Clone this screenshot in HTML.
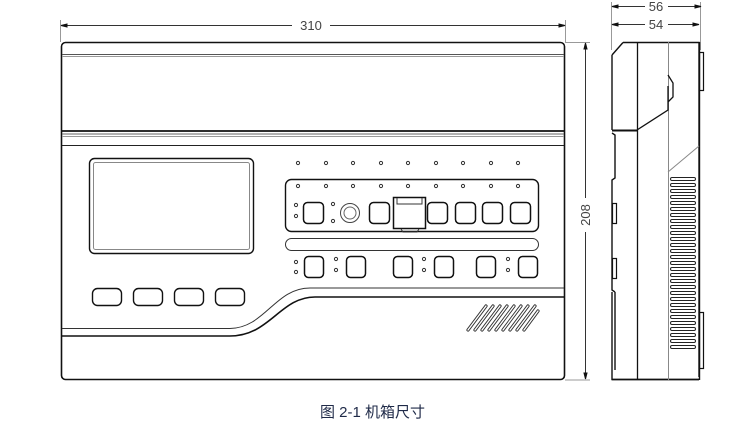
<!DOCTYPE html>
<html><head><meta charset="utf-8"><style>
html,body{margin:0;padding:0;background:#fff;width:752px;height:430px;overflow:hidden}
svg{display:block}
.cap{position:absolute;left:320px;top:401px;font:15px "Liberation Sans","Noto Sans CJK SC",sans-serif;color:#1f2a48}
</style></head><body>
<svg width="752" height="430" viewBox="0 0 752 430" xmlns="http://www.w3.org/2000/svg" font-family="Liberation Sans, sans-serif">
<g fill="none" stroke="#111" stroke-width="1">
<!-- top dimension 310 -->
<line x1="60.5" y1="20" x2="60.5" y2="42" stroke="#999"/>
<line x1="565.5" y1="20" x2="565.5" y2="42" stroke="#999"/>
<line x1="61" y1="25.5" x2="292" y2="25.5" stroke="#333"/>
<line x1="330" y1="25.5" x2="565" y2="25.5" stroke="#333"/>
<path d="M61 25.5 l6 -1.5 v3z M565 25.5 l-6 -1.5 v3z" fill="#111"/>
<!-- main box -->
<rect x="61.5" y="42.5" width="503" height="337" rx="4" stroke-width="1.6"/>
<line x1="62" y1="54.5" x2="564" y2="54.5" stroke="#555"/>
<line x1="62" y1="56.5" x2="564" y2="56.5" stroke="#999"/>
<line x1="62" y1="131" x2="564" y2="131" stroke-width="1.8"/>
<line x1="62" y1="134" x2="564" y2="134" stroke="#666"/>
<line x1="62" y1="136.5" x2="564" y2="136.5" stroke="#999"/>
<line x1="62" y1="145.5" x2="564" y2="145.5" stroke="#222"/>
<!-- screen -->
<rect x="89.5" y="158.5" width="164" height="95" rx="5" stroke-width="1.4"/>
<rect x="93.5" y="162.5" width="156" height="87" rx="2" stroke="#888"/>
<!-- bottom-left buttons -->
<rect x="92.5" y="288.5" width="29" height="17" rx="5" stroke-width="1.4"/>
<rect x="133.5" y="288.5" width="29" height="17" rx="5" stroke-width="1.4"/>
<rect x="174.5" y="288.5" width="29" height="17" rx="5" stroke-width="1.4"/>
<rect x="215.5" y="288.5" width="29" height="17" rx="5" stroke-width="1.4"/>
<!-- curved band -->
<path d="M62 328.5 H230 C265 328 275 288 310 288 H564" stroke="#333"/>
<path d="M62 336 H230 C270 336 280 297 315 297 H564" stroke-width="1.6"/>
<!-- dots top row -->
<g stroke="#333" stroke-width="1">
<circle cx="298" cy="163" r="1.6"/><circle cx="326" cy="163" r="1.6"/><circle cx="353" cy="163" r="1.6"/><circle cx="381" cy="163" r="1.6"/><circle cx="408" cy="163" r="1.6"/><circle cx="436" cy="163" r="1.6"/><circle cx="463" cy="163" r="1.6"/><circle cx="491" cy="163" r="1.6"/><circle cx="518" cy="163" r="1.6"/>
<circle cx="298" cy="186" r="1.6"/><circle cx="326" cy="186" r="1.6"/><circle cx="353" cy="186" r="1.6"/><circle cx="381" cy="186" r="1.6"/><circle cx="408" cy="186" r="1.6"/><circle cx="436" cy="186" r="1.6"/><circle cx="463" cy="186" r="1.6"/><circle cx="491" cy="186" r="1.6"/><circle cx="518" cy="186" r="1.6"/>
<circle cx="296" cy="205" r="1.6"/><circle cx="296" cy="216" r="1.6"/><circle cx="333" cy="204" r="1.6"/><circle cx="333" cy="221" r="1.6"/>
<circle cx="296" cy="262" r="1.6"/><circle cx="296" cy="272" r="1.6"/>
<circle cx="336" cy="259" r="1.6"/><circle cx="336" cy="270" r="1.6"/>
<circle cx="424" cy="259" r="1.6"/><circle cx="424" cy="270" r="1.6"/>
<circle cx="508" cy="259" r="1.6"/><circle cx="508" cy="270" r="1.6"/>
</g>
<!-- panel -->
<rect x="285.5" y="179.5" width="253" height="52" rx="6" stroke-width="1.4"/>
<rect x="303.5" y="202.5" width="20" height="21" rx="4" stroke-width="1.5"/>
<circle cx="350" cy="213" r="9.5" stroke="#444"/>
<circle cx="350" cy="213" r="6" stroke="#666"/>
<rect x="369.5" y="202.5" width="20" height="21" rx="4" stroke-width="1.5"/>
<rect x="393.5" y="197.5" width="32" height="31" stroke-width="1.5"/>
<path d="M397 198 v6 h25 v-6 M401 229 l2 3 h14 l2 -3" stroke="#333"/>
<rect x="427.5" y="202.5" width="20" height="21" rx="4" stroke-width="1.5"/>
<rect x="455.5" y="202.5" width="20" height="21" rx="4" stroke-width="1.5"/>
<rect x="482.5" y="202.5" width="20" height="21" rx="4" stroke-width="1.5"/>
<rect x="510.5" y="202.5" width="20" height="21" rx="4" stroke-width="1.5"/>
<rect x="285.5" y="238.5" width="253" height="12" rx="6" stroke="#333"/>
<!-- lower buttons -->
<rect x="304.5" y="256.5" width="19" height="21" rx="4" stroke-width="1.5"/>
<rect x="346.5" y="256.5" width="19" height="21" rx="4" stroke-width="1.5"/>
<rect x="393.5" y="256.5" width="19" height="21" rx="4" stroke-width="1.5"/>
<rect x="434.5" y="256.5" width="19" height="21" rx="4" stroke-width="1.5"/>
<rect x="476.5" y="256.5" width="19" height="21" rx="4" stroke-width="1.5"/>
<rect x="518.5" y="256.5" width="19" height="21" rx="4" stroke-width="1.5"/>
<!-- hatch vent -->
<g stroke="#333" stroke-width="3.2" stroke-linecap="round">
<line x1="468" y1="330" x2="486" y2="306"/><line x1="475" y1="330" x2="493" y2="306"/><line x1="482" y1="330" x2="500" y2="306"/><line x1="489" y1="330" x2="507" y2="306"/><line x1="496" y1="330" x2="514" y2="306"/><line x1="503" y1="330" x2="521" y2="306"/><line x1="510" y1="330" x2="528" y2="306"/><line x1="517" y1="330" x2="535" y2="306"/><line x1="524" y1="330" x2="538" y2="311"/>
</g>
<g stroke="#fff" stroke-width="1.4" stroke-linecap="round">
<line x1="468" y1="330" x2="486" y2="306"/><line x1="475" y1="330" x2="493" y2="306"/><line x1="482" y1="330" x2="500" y2="306"/><line x1="489" y1="330" x2="507" y2="306"/><line x1="496" y1="330" x2="514" y2="306"/><line x1="503" y1="330" x2="521" y2="306"/><line x1="510" y1="330" x2="528" y2="306"/><line x1="517" y1="330" x2="535" y2="306"/><line x1="524" y1="330" x2="538" y2="311"/>
</g>
<!-- 208 dimension -->
<line x1="565" y1="42.5" x2="590" y2="42.5" stroke="#999"/>
<line x1="565" y1="380" x2="590" y2="380" stroke="#999"/>
<line x1="585.5" y1="43" x2="585.5" y2="198" stroke="#333"/>
<line x1="585.5" y1="232" x2="585.5" y2="379" stroke="#333"/>
<path d="M585.5 43 l-1.5 6 h3z M585.5 379 l-1.5 -6 h3z" fill="#111"/>
<!-- side view -->
<line x1="611.5" y1="2" x2="611.5" y2="50" stroke="#999"/>
<line x1="700.5" y1="2" x2="700.5" y2="50" stroke="#999"/>
<line x1="612" y1="6.5" x2="645" y2="6.5" stroke="#333"/><line x1="668" y1="6.5" x2="701" y2="6.5" stroke="#333"/>
<line x1="612" y1="24.5" x2="645" y2="24.5" stroke="#333"/><line x1="668" y1="24.5" x2="699" y2="24.5" stroke="#333"/>
<path d="M612 6.5 l6 -1.5 v3z M701 6.5 l-6 -1.5 v3z M612 24.5 l6 -1.5 v3z M699 24.5 l-6 -1.5 v3z" fill="#111"/>
<path d="M623 42.5 H699 V377 M612 55 L623 42.5 M612 55 V130 M612 133 l3 2 v43 l-3 2 V290 l3 2 v0 M615 292 V370 M612 292 V379.5 H699" stroke-width="1.4"/>
<line x1="612" y1="379.5" x2="699" y2="379.5" stroke-width="1.6"/>
<line x1="699.5" y1="42" x2="699.5" y2="380" stroke-width="1.4"/>
<line x1="637.5" y1="42" x2="637.5" y2="380" stroke-width="1.3"/>
<line x1="668.5" y1="42" x2="668.5" y2="380" stroke="#888"/>
<line x1="612" y1="130.5" x2="637" y2="130.5" stroke-width="2"/>
<path d="M637 130 L668 110 V86 M668 75 l5 8 v14 l-5 5" stroke-width="1.3"/>
<path d="M668 172 L699 146" stroke="#888"/>
<rect x="612.5" y="203.5" width="4" height="20" stroke-width="1.2"/>
<rect x="612.5" y="258.5" width="4" height="20" stroke-width="1.2"/>
<rect x="699.5" y="52.5" width="4" height="38" stroke-width="1.2"/>
<rect x="699.5" y="312.5" width="4" height="56" stroke-width="1.2"/>
<g stroke="#222" stroke-width="1">
<rect x="670.5" y="177.5" width="25" height="3" rx="1.5"/><rect x="670.5" y="183.5" width="25" height="3" rx="1.5"/><rect x="670.5" y="189.5" width="25" height="3" rx="1.5"/><rect x="670.5" y="195.5" width="25" height="3" rx="1.5"/><rect x="670.5" y="201.5" width="25" height="3" rx="1.5"/><rect x="670.5" y="207.5" width="25" height="3" rx="1.5"/><rect x="670.5" y="213.5" width="25" height="3" rx="1.5"/><rect x="670.5" y="219.5" width="25" height="3" rx="1.5"/><rect x="670.5" y="225.5" width="25" height="3" rx="1.5"/><rect x="670.5" y="231.5" width="25" height="3" rx="1.5"/><rect x="670.5" y="237.5" width="25" height="3" rx="1.5"/><rect x="670.5" y="243.5" width="25" height="3" rx="1.5"/><rect x="670.5" y="249.5" width="25" height="3" rx="1.5"/><rect x="670.5" y="255.5" width="25" height="3" rx="1.5"/><rect x="670.5" y="261.5" width="25" height="3" rx="1.5"/><rect x="670.5" y="267.5" width="25" height="3" rx="1.5"/><rect x="670.5" y="273.5" width="25" height="3" rx="1.5"/><rect x="670.5" y="279.5" width="25" height="3" rx="1.5"/><rect x="670.5" y="285.5" width="25" height="3" rx="1.5"/><rect x="670.5" y="291.5" width="25" height="3" rx="1.5"/><rect x="670.5" y="297.5" width="25" height="3" rx="1.5"/><rect x="670.5" y="303.5" width="25" height="3" rx="1.5"/><rect x="670.5" y="309.5" width="25" height="3" rx="1.5"/><rect x="670.5" y="315.5" width="25" height="3" rx="1.5"/><rect x="670.5" y="321.5" width="25" height="3" rx="1.5"/><rect x="670.5" y="327.5" width="25" height="3" rx="1.5"/><rect x="670.5" y="333.5" width="25" height="3" rx="1.5"/><rect x="670.5" y="339.5" width="25" height="3" rx="1.5"/><rect x="670.5" y="345.5" width="25" height="3" rx="1.5"/>
</g>
</g>
<text x="311" y="30" font-size="13" text-anchor="middle" fill="#444">310</text>
<text x="656" y="11" font-size="13" text-anchor="middle" fill="#444">56</text>
<text x="656" y="29" font-size="13" text-anchor="middle" fill="#444">54</text>
<text transform="translate(590 215) rotate(-90)" font-size="13" text-anchor="middle" fill="#444">208</text>
</svg>
<div class="cap">图 2-1 机箱尺寸</div>
</body></html>
